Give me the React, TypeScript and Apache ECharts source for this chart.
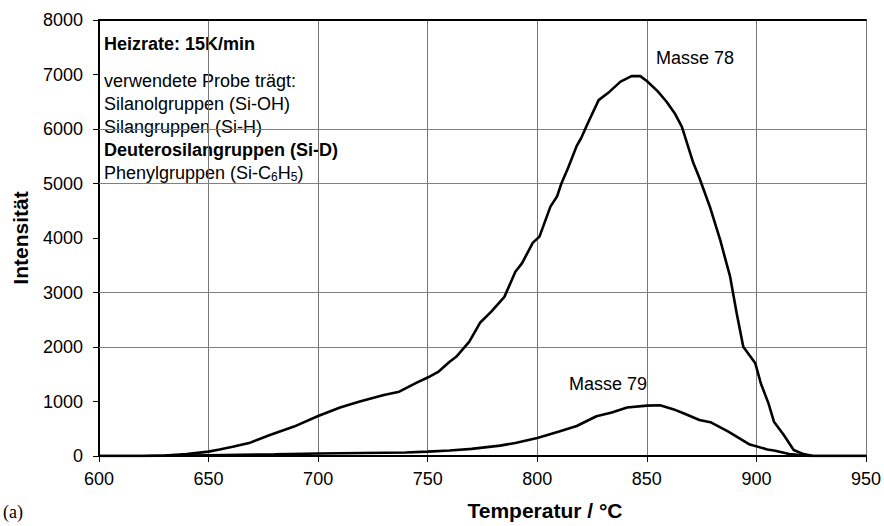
import React, { useEffect, useRef } from "react";
import * as echarts from "echarts";

const xTicks = [600, 650, 700, 750, 800, 850, 900, 950];
const yGridValues = [2000, 3000, 5000, 6000];

const masse78: [number, number][] = [
  [600, 0], [610, 0], [620, 0], [630, 10], [640, 35], [650, 80], [655, 120], [661, 170],
  [669, 245], [678, 385], [689, 540], [700, 735], [710, 890], [719, 1000], [730, 1120],
  [737, 1180], [745, 1345], [750, 1440], [755, 1550], [760, 1730], [763, 1820], [769, 2100],
  [774, 2450], [779, 2650], [785, 2920], [790, 3380], [793, 3535], [798, 3915], [801, 4025],
  [806, 4575], [809, 4760], [811, 5000], [814, 5280], [818, 5690], [820, 5830], [823, 6100],
  [828, 6530], [833, 6685], [838, 6870], [843, 6970], [847, 6970], [850, 6880], [855, 6690],
  [859, 6500], [863, 6270], [866, 6040], [871, 5400], [874, 5100], [879, 4545], [883.5, 3960],
  [888, 3290], [891, 2620], [894, 2005], [899.5, 1700], [902, 1335], [905.5, 965], [908, 630],
  [912.5, 385], [917, 110], [921.5, 35], [926, 0], [935, 0], [950, 0],
];

const masse79: [number, number][] = [
  [600, 0], [620, 0], [630, 5], [650, 15], [680, 30], [700, 45], [720, 55], [740, 65],
  [750, 80], [760, 100], [770, 130], [783, 190], [790, 240], [800, 330], [810, 450],
  [818, 550], [827, 730], [834, 800], [841, 890], [850, 925], [856, 930], [862, 860],
  [867, 780], [874, 660], [879, 620], [887, 450], [897, 210], [905, 120], [908, 100],
  [915, 35], [925, 0], [950, 0],
];

const annotationLines = [
  { text: "Heizrate: 15K/min", bold: true, y: 44 },
  { text: "verwendete Probe trägt:", bold: false, y: 81 },
  { text: "Silanolgruppen (Si-OH)", bold: false, y: 104 },
  { text: "Silangruppen (Si-H)", bold: false, y: 127 },
  { text: "Deuterosilangruppen (Si-D)", bold: true, y: 150 },
  { text: "Phenylgruppen (Si-C{sub|6}H{sub|5})", bold: false, y: 173 },
];

const FONT = "'Liberation Sans', Arial, sans-serif";

export default function App() {
  const ref = useRef<HTMLDivElement>(null);
  useEffect(() => {
    if (!ref.current) return;
    const chart = echarts.init(ref.current, null, { renderer: "svg" });
    const axisLabel = { color: "#000", fontSize: 18, fontFamily: FONT, formatter: (v: number) => String(v) };
    chart.setOption({
      animation: false,
      backgroundColor: "#fff",
      grid: { left: 99, top: 20, right: 18, bottom: 70, containLabel: false },
      xAxis: [
        {
          type: "value",
          min: xTicks[0],
          max: xTicks[xTicks.length - 1],
          interval: 50,
          axisLine: { show: true, onZero: false, lineStyle: { color: "#000", width: 2 } },
          axisTick: { show: true, length: 6, lineStyle: { color: "#000", width: 1 } },
          axisLabel: { ...axisLabel, margin: 14 },
          splitLine: { show: true, lineStyle: { color: "#777", width: 1 } },
        },
        {
          type: "value",
          position: "top",
          min: xTicks[0],
          max: xTicks[xTicks.length - 1],
          interval: 50,
          axisLine: { show: true, onZero: false, lineStyle: { color: "#000", width: 2 } },
          axisTick: { show: false },
          axisLabel: { show: false },
          splitLine: { show: false },
        },
      ],
      yAxis: {
        type: "value",
        min: 0,
        max: 8000,
        interval: 1000,
        axisLine: { show: true, lineStyle: { color: "#000", width: 2 } },
        axisTick: { show: true, length: 6, lineStyle: { color: "#000", width: 1 } },
        axisLabel: { ...axisLabel, margin: 16 },
        splitLine: { show: false },
      },
      series: [
        {
          name: "Masse 78",
          type: "line",
          data: masse78,
          showSymbol: false,
          symbol: "none",
          lineStyle: { color: "#000", width: 2.6 },
          markLine: {
            silent: true,
            symbol: "none",
            label: { show: false },
            lineStyle: { color: "#808080", width: 1, type: "solid" },
            data: yGridValues.map((v) => ({ yAxis: v })),
            z: 1,
          },
          z: 5,
        },
        {
          name: "Masse 79",
          type: "line",
          data: masse79,
          showSymbol: false,
          symbol: "none",
          lineStyle: { color: "#000", width: 2.6 },
          z: 5,
        },
      ],
      graphic: [
        ...annotationLines.map((l) => ({
          type: "text",
          left: 104,
          top: l.y - 10,
          style: {
            text: l.text,
            fill: "#000",
            font: `${l.bold ? "bold " : ""}18px ${FONT}`,
            lineHeight: 20,
            rich: {
              sub: { fontSize: 12, fontFamily: FONT, verticalAlign: "bottom", lineHeight: 14, fill: "#000" },
            },
          },
        })),
        {
          type: "text",
          left: 656,
          top: 49,
          style: { text: "Masse 78", fill: "#000", font: `18px ${FONT}` },
        },
        {
          type: "text",
          left: 569,
          top: 375,
          style: { text: "Masse 79", fill: "#000", font: `18px ${FONT}` },
        },
        {
          type: "text",
          x: 545,
          y: 510,
          style: {
            text: "Temperatur / °C",
            fill: "#000",
            font: `bold 21px ${FONT}`,
            align: "center",
            verticalAlign: "middle",
          },
        },
        {
          type: "text",
          x: 20,
          y: 238,
          rotation: Math.PI / 2,
          style: {
            text: "Intensität",
            fill: "#000",
            font: `bold 21px ${FONT}`,
            align: "center",
            verticalAlign: "middle",
          },
        },
        {
          type: "text",
          left: 3,
          top: 503,
          style: { text: "(a)", fill: "#000", font: "18px 'Liberation Serif', 'Times New Roman', serif" },
        },
      ],
    });
    return () => chart.dispose();
  }, []);
  return (
    <div
      ref={ref}
      style={{ position: "fixed", left: 0, top: 0, width: 884, height: 526, background: "#fff" }}
    />
  );
}
